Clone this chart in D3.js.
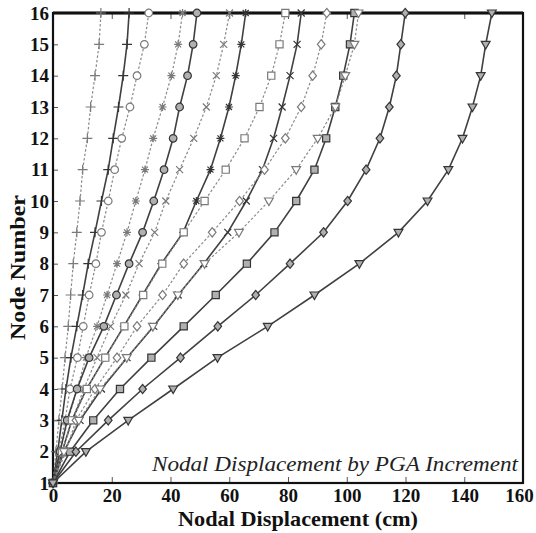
<!DOCTYPE html>
<html>
<head>
<meta charset="utf-8">
<script src="https://cdn.jsdelivr.net/npm/d3@7/dist/d3.min.js"></script>
<style>
body { margin: 0; background: #fff; }
svg { display: block; }
text { font-family: "Liberation Serif", "DejaVu Serif", serif; }
</style>
</head>
<body>
<svg width="536" height="533"></svg>
<script>
// node numbers (y) and displacement in cm (x), one array per PGA step
var nodes = [1, 2, 3, 4, 5, 6, 7, 8, 9, 10, 11, 12, 13, 14, 15, 16];

var plusDot      = [0, 1.0, 2.0, 3.1, 4.1, 5.2, 6.0, 6.9, 8.1, 9.2, 10.1, 11.7, 12.8, 14.3, 15.7, 16.3];
var plusSolid    = [0, 1.6, 3.0, 4.4, 6.1, 8.1, 10.1, 12.0, 14.3, 16.5, 18.8, 20.5, 22.3, 23.9, 25.2, 25.9];
var circDot      = [0, 2.0, 4.1, 5.8, 8.3, 10.3, 12.3, 14.6, 16.5, 18.8, 21.0, 23.4, 26.2, 28.6, 31.1, 32.6];
var starDot      = [0, 2.4, 5.1, 8.2, 11.2, 15.0, 18.4, 21.8, 25.2, 28.2, 31.3, 34.1, 37.3, 40.3, 42.6, 44.1];
var circSolid    = [0, 2.4, 4.8, 8.2, 12.3, 17.3, 21.6, 25.9, 30.5, 34.3, 37.8, 40.9, 43.1, 45.8, 47.7, 49.0];
var crossDot     = [0, 3.1, 6.5, 10.5, 15.0, 19.6, 24.8, 29.3, 34.6, 38.4, 43.1, 47.9, 52.2, 55.6, 58.1, 60.1];
var starSolid    = [0, 3.1, 6.4, 11.4, 17.7, 24.1, 30.5, 36.9, 44.3, 48.8, 53.6, 57.0, 59.9, 62.2, 64.1, 65.6];
var squareDot    = [0, 3.1, 6.5, 11.5, 17.8, 24.3, 30.7, 37.2, 44.5, 51.6, 58.8, 65.2, 70.3, 74.3, 77.1, 79.1];
var crossSolid   = [0, 3.7, 9.2, 16.5, 25.2, 34.3, 42.6, 51.3, 59.5, 65.8, 71.3, 75.1, 78.0, 80.7, 83.1, 84.5];
var diamondDot   = [0, 4.4, 7.8, 14.3, 21.8, 28.6, 37.3, 44.5, 54.2, 63.5, 72.0, 79.1, 84.5, 88.4, 91.3, 93.2];
var squareSolid  = [0, 5.8, 13.7, 22.8, 33.5, 44.5, 55.4, 66.0, 75.4, 82.8, 89.0, 93.0, 96.1, 98.8, 101.1, 102.6];
var triDot       = [0, 3.7, 8.8, 16.0, 25.1, 34.0, 42.5, 51.6, 63.3, 73.5, 82.8, 90.1, 96.1, 99.5, 102.6, 104.0];
var diamondSolid = [0, 7.8, 18.8, 30.5, 43.4, 56.1, 69.0, 80.7, 92.1, 100.3, 106.6, 111.3, 114.5, 116.9, 118.4, 119.9];
var triSolid     = [0, 11.2, 25.6, 40.9, 56.0, 73.1, 89.0, 104.3, 117.6, 127.5, 134.6, 139.4, 142.8, 145.6, 147.3, 149.4];

var xTicks = [0, 20, 40, 60, 80, 100, 120, 140, 160];

var series = [
    {values: plusDot, marker: "plus", dashed: true},
    {values: plusSolid, marker: "plus", dashed: false},
    {values: circDot, marker: "circle", dashed: true},
    {values: starDot, marker: "star", dashed: true},
    {values: circSolid, marker: "circle", dashed: false},
    {values: crossDot, marker: "cross", dashed: true},
    {values: starSolid, marker: "star", dashed: false},
    {values: squareDot, marker: "square", dashed: true},
    {values: crossSolid, marker: "cross", dashed: false},
    {values: diamondDot, marker: "diamond", dashed: true},
    {values: squareSolid, marker: "square", dashed: false},
    {values: triDot, marker: "triangle", dashed: true},
    {values: diamondSolid, marker: "diamond", dashed: false},
    {values: triSolid, marker: "triangle", dashed: false}
];

var svg = d3.select("svg");
var plotLeft = 53, plotRight = 523, plotTop = 13, plotBottom = 483;

var x = d3.scaleLinear().domain([0, 160]).range([plotLeft, plotRight]);
var y = d3.scaleLinear().domain([1, 16]).range([plotBottom, plotTop]);

// axes with inward ticks
svg.append("g")
    .attr("transform", "translate(0," + plotBottom + ")")
    .call(d3.axisBottom(x).tickValues(xTicks).tickSizeInner(-6).tickSizeOuter(0).tickPadding(6))
    .call(function(g) {
        g.select(".domain").remove();
        g.selectAll(".tick line").attr("stroke", "#555");
        g.selectAll("text").attr("font-size", 19).attr("font-weight", "bold").attr("fill", "#111")
            .attr("font-family", "Liberation Serif, serif");
        g.selectAll(".tick:last-of-type text").attr("dx", -4);
    });

svg.append("g")
    .attr("transform", "translate(0," + plotTop + ")")
    .call(d3.axisTop(x).tickValues(xTicks).tickSizeInner(-6).tickSizeOuter(0).tickFormat(""))
    .call(function(g) {
        g.select(".domain").remove();
        g.selectAll(".tick line").attr("stroke", "#555");
    });

svg.append("g")
    .attr("transform", "translate(" + plotLeft + ",0)")
    .call(d3.axisLeft(y).tickValues(nodes).tickSizeInner(-5).tickSizeOuter(0).tickPadding(4))
    .call(function(g) {
        g.select(".domain").remove();
        g.selectAll(".tick line").attr("stroke", "#555");
        g.selectAll("text").attr("font-size", 19).attr("font-weight", "bold").attr("fill", "#111")
            .attr("font-family", "Liberation Serif, serif");
    });

// frame (top edge a little heavier)
svg.append("rect")
    .attr("x", plotLeft).attr("y", plotTop)
    .attr("width", plotRight - plotLeft).attr("height", plotBottom - plotTop)
    .attr("fill", "none").attr("stroke", "#111").attr("stroke-width", 2.2);
svg.append("line")
    .attr("x1", plotLeft).attr("x2", plotRight)
    .attr("y1", plotTop).attr("y2", plotTop)
    .attr("stroke", "#111").attr("stroke-width", 3);

// marker shapes
function markerPath(type) {
    switch (type) {
        case "plus": return "M-5,0H5M0,-5V5";
        case "cross": return "M-3.5,-3.5L3.5,3.5M-3.5,3.5L3.5,-3.5";
        case "star": return "M-4,0H4M0,-4V4M-3,-3L3,3M-3,3L3,-3";
        case "circle": return "M3.8,0A3.8,3.8 0 1,1 -3.8,0A3.8,3.8 0 1,1 3.8,0Z";
        case "square": return "M-3.6,-3.6H3.6V3.6H-3.6Z";
        case "diamond": return "M0,-4.6L3.8,0L0,4.6L-3.8,0Z";
        case "triangle": return "M-4.4,-3L4.4,-3L0,4.6Z";
    }
}

var line = d3.line()
    .x(function(d) { return x(d.v); })
    .y(function(d) { return y(d.n); });

var plot = svg.append("g");

series.forEach(function(s) {
    var pts = s.values.map(function(v, i) { return {v: v, n: nodes[i]}; });
    var col = s.dashed ? "#8a8a8a" : "#404040";

    plot.append("path")
        .datum(pts)
        .attr("d", line)
        .attr("fill", "none")
        .attr("stroke", col)
        .attr("stroke-width", s.dashed ? 1.2 : 1.6)
        .attr("stroke-dasharray", s.dashed ? "2.5,2" : null);

    plot.selectAll(null)
        .data(pts)
        .enter().append("path")
        .attr("transform", function(d) { return "translate(" + x(d.v) + "," + y(d.n) + ")"; })
        .attr("d", markerPath(s.marker))
        .attr("fill", s.dashed ? "#fff" : "#b0b0b0")
        .attr("fill-opacity", (s.marker == "plus" || s.marker == "cross" || s.marker == "star") ? 0 : 1)
        .attr("stroke", s.dashed ? "#7a7a7a" : "#353535")
        .attr("stroke-width", 1.2);
});

// annotation and axis titles
svg.append("text")
    .attr("x", 152).attr("y", 471)
    .attr("font-size", 20).attr("font-style", "italic").attr("fill", "#222")
    .attr("textLength", 366).attr("lengthAdjust", "spacingAndGlyphs")
    .text("Nodal Displacement by PGA Increment");

svg.append("text")
    .attr("x", 178).attr("y", 526)
    .attr("font-size", 21).attr("font-weight", "bold").attr("fill", "#111")
    .attr("textLength", 240).attr("lengthAdjust", "spacingAndGlyphs")
    .text("Nodal Displacement (cm)");

svg.append("text")
    .attr("transform", "translate(25,340) rotate(-90)")
    .attr("font-size", 21).attr("font-weight", "bold").attr("fill", "#111")
    .attr("textLength", 145).attr("lengthAdjust", "spacingAndGlyphs")
    .text("Node Number");
</script>
</body>
</html>
